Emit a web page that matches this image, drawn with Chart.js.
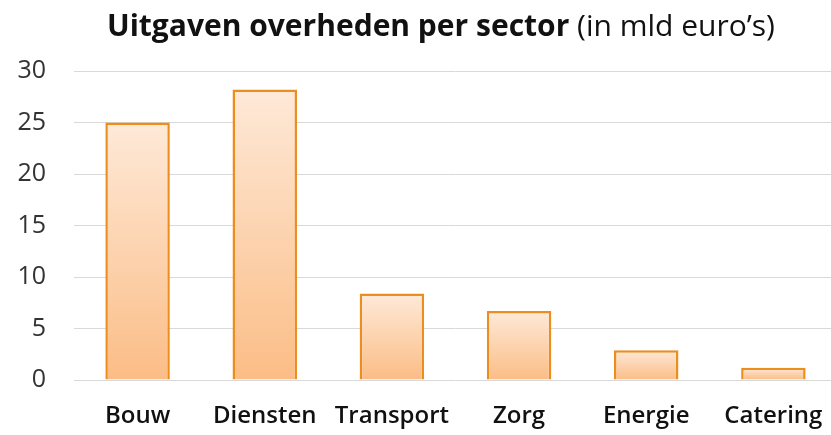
<!DOCTYPE html>
<html>
<head>
<meta charset="utf-8">
<script src="https://cdn.jsdelivr.net/npm/chart.js@4.4.1/dist/chart.umd.min.js"></script>
<style>
  html, body { margin: 0; padding: 0; background: #fff; overflow: hidden; }
  #wrap { position: relative; width: 831px; height: 435px; overflow: hidden; }
  #title {
    position: absolute; left: 107px; top: 4px; white-space: nowrap;
    font-family: "Open Sans", sans-serif; font-size: 30px; color: #111;
  }
  #title b { font-weight: 700; }
  canvas { display: block; }
</style>
</head>
<body>
<div id="wrap">
  <div id="title"><b>Uitgaven overheden per sector</b> (in mld euro’s)</div>
  <canvas id="barChart" width="845" height="435"></canvas>
</div>
<script>
// Data
const sectors = ["Bouw", "Diensten", "Transport", "Zorg", "Energie", "Catering"];
const spending = [25, 28.2, 8.4, 6.7, 2.9, 1.2];
const yTicks = [0, 5, 10, 15, 20, 25, 30];

// Each bar gets its own light-to-orange gradient, like the original
function barGradient(ctx) {
    const chart = ctx.chart;
    const yScale = chart.scales.y;
    if (!yScale || ctx.raw === undefined) return "#fcd3ad";
    const top = yScale.getPixelForValue(ctx.raw);
    const bottom = yScale.getPixelForValue(0);
    if (!isFinite(top) || !isFinite(bottom) || top === bottom) return "#fcd3ad";
    const g = chart.ctx.createLinearGradient(0, top, 0, bottom);
    g.addColorStop(0, "#fee9d8");
    g.addColorStop(1, "#fbbd86");
    return g;
}

const ctx = document.getElementById("barChart").getContext("2d");

new Chart(ctx, {
    type: "bar",
    data: {
        labels: sectors,
        datasets: [{
            data: spending,
            backgroundColor: barGradient,
            borderColor: "#ec8d1f",
            borderWidth: 2.5,
            borderSkipped: "bottom",
            barPercentage: 0.507,
            categoryPercentage: 1.0
        }]
    },
    options: {
        responsive: false,
        animation: false,
        layout: { padding: { top: 71, right: 7, left: 0, bottom: 0 } },
        plugins: {
            legend: { display: false },
            tooltip: { enabled: false }
        },
        scales: {
            x: {
                grid: { display: false, drawTicks: false },
                border: { display: false },
                ticks: {
                    color: "#111",
                    padding: 22,
                    maxRotation: 0,
                    autoSkip: false,
                    font: { family: "'Open Sans', sans-serif", size: 24, weight: "600" }
                },
                afterFit: (scale) => { scale.height = 55; }
            },
            y: {
                min: 0,
                max: 30,
                afterBuildTicks: (scale) => { scale.ticks = yTicks.map(v => ({ value: v })); },
                grid: { color: "#d9d9d9", lineWidth: 1, drawTicks: false },
                border: { display: false },
                ticks: {
                    color: "#333",
                    padding: 28,
                    font: { family: "'Open Sans', sans-serif", size: 25 }
                },
                afterFit: (scale) => { scale.width = 74; }
            }
        }
    }
});
</script>
</body>
</html>
